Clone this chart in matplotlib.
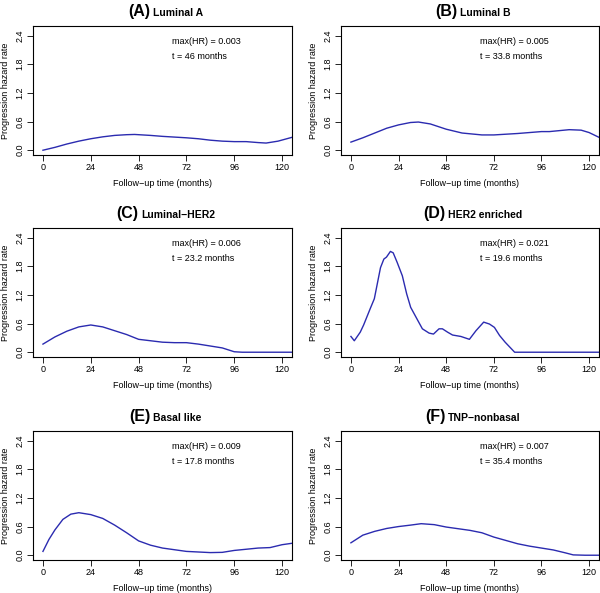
import numpy as np
import matplotlib
matplotlib.use('Agg')
import matplotlib.pyplot as plt

plt.rcParams['font.family'] = ['Liberation Sans', 'DejaVu Sans']

# panel titles and annotations
letters = ["(A)", "(B)", "(C)", "(D)", "(E)", "(F)"]
names = ["Luminal A", "Luminal B", "Luminal\u2212HER2", "HER2 enriched", "Basal like", "TNP\u2212nonbasal"]
max_hr = ["0.003", "0.005", "0.006", "0.021", "0.009", "0.007"]
t_max = ["46", "33.8", "23.2", "19.6", "17.8", "35.4"]

# hazard curves (time in months, rate)
t_a = [0, 6, 12, 18, 24, 30, 36, 42, 46, 54, 60, 66, 72, 78, 84, 90, 96, 102, 108, 112, 118, 125]
y_a = [0.0, 0.06, 0.13, 0.19, 0.24, 0.28, 0.31, 0.325, 0.33, 0.31, 0.29, 0.275, 0.26, 0.24, 0.21, 0.19, 0.18, 0.18, 0.16, 0.15, 0.19, 0.27]

t_b = [0, 6, 12, 18, 24, 30, 34, 40, 48, 56, 66, 72, 84, 96, 100, 110, 116, 120, 125]
y_b = [0.17, 0.26, 0.36, 0.46, 0.53, 0.58, 0.59, 0.55, 0.44, 0.36, 0.32, 0.32, 0.35, 0.39, 0.39, 0.43, 0.42, 0.37, 0.27]

t_c = [0, 6, 12, 18, 24, 30, 36, 42, 48, 54, 60, 66, 72, 78, 84, 90, 96, 100, 110, 125]
y_c = [0.17, 0.32, 0.44, 0.53, 0.57, 0.53, 0.45, 0.37, 0.27, 0.24, 0.21, 0.2, 0.2, 0.17, 0.13, 0.09, 0.01, 0.0, 0.0, 0.0]

t_d = [0, 1.7, 4.7, 6.4, 9.8, 11.8, 14.9, 16.6, 17.9, 19.9, 21.3, 23.3, 25.9, 28.1, 30.1, 33.5, 36, 39.4, 41.6,
       44.4, 46.1, 48.7, 51.2, 55.4, 59.7, 63, 66.9, 69.8, 72.3, 74.9, 77.7, 82.5, 90, 110, 125]
y_d = [0.33, 0.24, 0.42, 0.57, 0.92, 1.12, 1.77, 1.95, 1.99, 2.11, 2.08, 1.88, 1.6, 1.22, 0.94, 0.68, 0.49, 0.40, 0.38,
       0.49, 0.49, 0.42, 0.36, 0.33, 0.27, 0.45, 0.63, 0.59, 0.52, 0.35, 0.21, 0.0, 0.0, 0.0, 0.0]

t_e = [0, 3, 6, 10, 14, 18, 24, 30, 36, 42, 48, 54, 60, 72, 84, 90, 96, 108, 114, 120, 125]
y_e = [0.08, 0.33, 0.53, 0.75, 0.86, 0.89, 0.85, 0.77, 0.63, 0.47, 0.30, 0.21, 0.15, 0.08, 0.055, 0.06, 0.10, 0.15, 0.16, 0.22, 0.25]

t_f = [0, 6, 12, 18, 24, 30, 35.4, 42, 48, 54, 60, 66, 72, 78, 84, 90, 96, 102, 108, 112, 118, 125]
y_f = [0.26, 0.42, 0.5, 0.56, 0.6, 0.63, 0.66, 0.64, 0.59, 0.555, 0.52, 0.47, 0.38, 0.31, 0.24, 0.19, 0.15, 0.11, 0.05, 0.007, 0.0, 0.0]

times = [t_a, t_b, t_c, t_d, t_e, t_f]
rates = [y_a, y_b, y_c, y_d, y_e, y_f]

xticks = [0, 24, 48, 72, 96, 120]
yticks = [0.0, 0.6, 1.2, 1.8, 2.4]
ytick_labels = ["0.0", "0.6", "1.2", "1.8", "2.4"]

W, H = 600, 593
fig = plt.figure(figsize=(W / 100, H / 100), dpi=100)

# axes boxes in pixels: (left, right) and (top, bottom)
cols = [(33, 292), (341, 599)]
rows = [(26, 155), (228, 357), (431, 560)]

fs = 6.5
line_col = '#2b2bb0'

for i in range(6):
    r, c = divmod(i, 2)
    x0, x1 = cols[c]
    y0, y1 = rows[r]
    ax = fig.add_axes([x0 / W, 1 - y1 / H, (x1 - x0) / W, (y1 - y0) / H])
    ax.plot(times[i], rates[i], color=line_col, lw=1.0)
    ax.set_xlim(-5, 125)
    ax.set_ylim(-0.1, 2.6)
    ax.set_xticks(xticks)
    ax.set_yticks(yticks)
    ax.set_yticklabels(ytick_labels, rotation=90, va='center')
    ax.tick_params(direction='out', length=4, width=0.6, labelsize=fs, pad=2)
    for s in ax.spines.values():
        s.set_linewidth(0.8)
    ax.set_xlabel("Follow\u2212up time (months)", fontsize=fs, labelpad=5)
    ax.set_ylabel("Progression hazard rate", fontsize=fs, labelpad=4)
    ax.text(65, 2.27, "max(HR) = " + max_hr[i], fontsize=fs, va='center', ha='left')
    ax.text(65, 1.97, "t = " + t_max[i] + " months", fontsize=fs, va='center', ha='left')

    # two-part title, centred over the box
    fig.canvas.draw()
    rend = fig.canvas.get_renderer()
    ty = 1 - (y0 - 10) / H
    t1 = fig.text(0, ty, letters[i], fontsize=11.5, fontweight='bold', va='baseline')
    t2 = fig.text(0, ty, names[i], fontsize=7.5, fontweight='bold', va='baseline')
    w1 = t1.get_window_extent(rend).width
    w2 = t2.get_window_extent(rend).width
    gap = 3
    total = w1 + gap + w2
    cx = (x0 + x1) / 2 + 3
    start = cx - total / 2
    t1.set_x(start / W)
    t2.set_x((start + w1 + gap) / W)

fig.savefig("out.png", dpi=100)
